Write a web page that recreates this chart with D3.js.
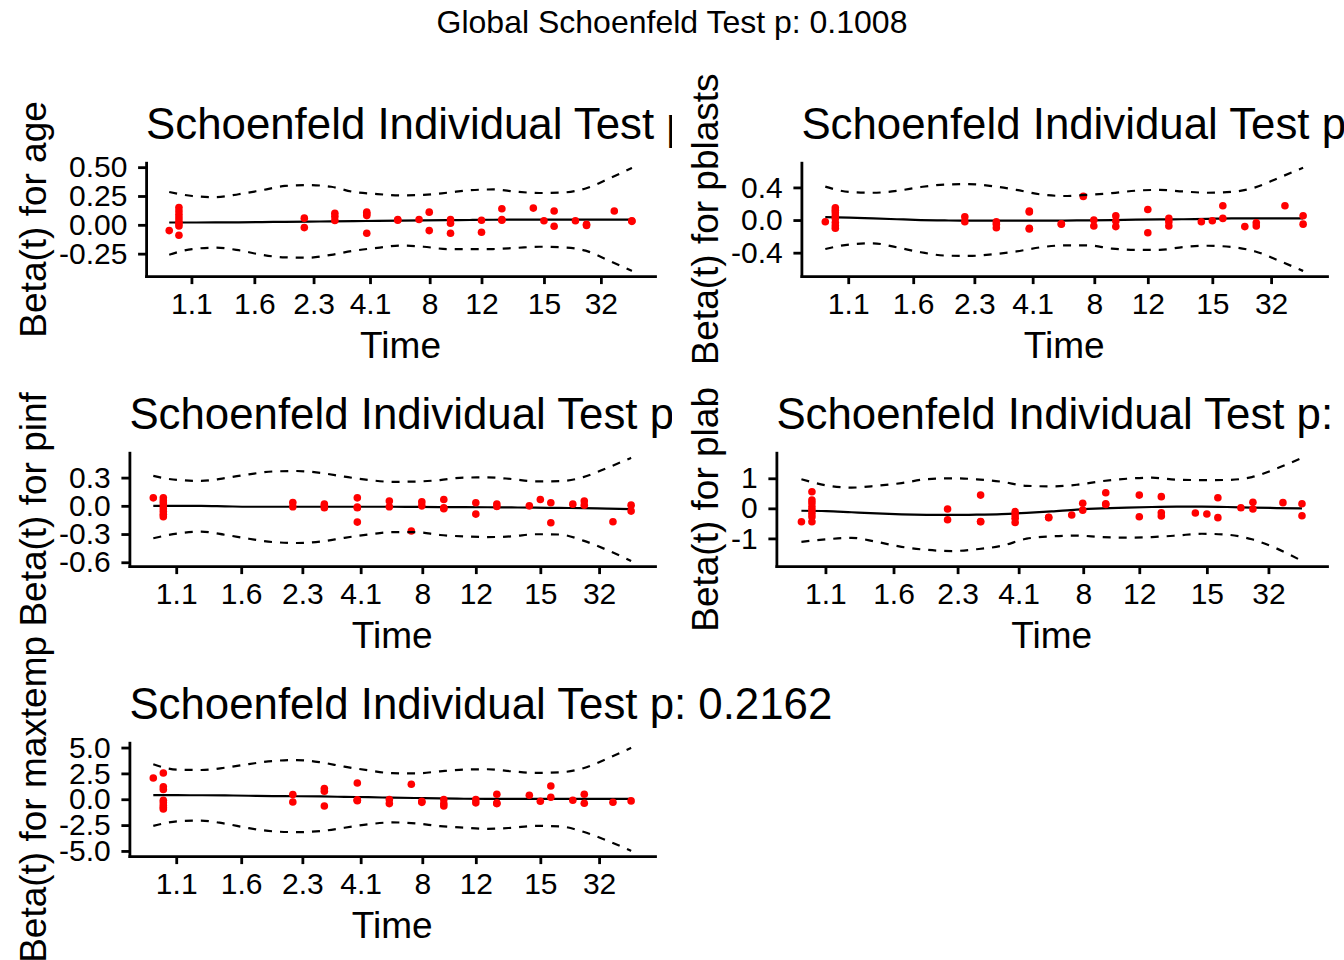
<!DOCTYPE html>
<html lang="en">
<head>
<meta charset="UTF-8">
<title>Schoenfeld residuals</title>
<script src="https://d3js.org/d3.v7.min.js"></script>
<style>
  body { margin: 0; background: #fff; }
  text { font-family: "Liberation Sans", Arial, sans-serif; fill: #000; }
</style>
</head>
<body>
<div id="chart"></div>
<script>
const globalTitle = "Global Schoenfeld Test p: 0.1008";

// event times on the transformed (km) axis, rescaled to 0..1
const timeX = [0, 0.021, 0.292, 0.358, 0.427, 0.494, 0.540, 0.562, 0.608,
               0.675, 0.719, 0.787, 0.810, 0.832, 0.878, 0.902, 0.962, 1.0];
const xTickPos = [0.048, 0.184, 0.312, 0.434, 0.563, 0.675, 0.81, 0.933];
const xTickLabels = ["1.1", "1.6", "2.3", "4.1", "8", "12", "15", "32"];

// where the smoothed beta(t) and its band were read
const smoothX = [0, 0.05, 0.1, 0.15, 0.2, 0.25, 0.3, 0.35, 0.4, 0.45, 0.5,
                 0.55, 0.6, 0.65, 0.7, 0.75, 0.8, 0.85, 0.9, 0.95, 1.0];

// ---- age
const residAge = [[-0.05], [0.15, 0.12, 0.09, 0.06, 0.03, 0.01, -0.01, -0.09], [0.058, -0.024],
  [0.10, 0.072, 0.037], [0.11, 0.095, 0.08, -0.073], [0.046, 0.04], [0.046], [0.11, -0.05],
  [0.046, 0.014, -0.073], [0.04, -0.064], [0.14, 0.046, 0.04], [0.145], [0.035],
  [0.12, -0.012], [0.035], [0.005, -0.005], [0.12], [0.035, 0.03]];
const fitAge = [0.02, 0.02, 0.021, 0.022, 0.024, 0.026, 0.028, 0.03, 0.032, 0.034, 0.036,
  0.038, 0.04, 0.042, 0.044, 0.045, 0.045, 0.045, 0.045, 0.045, 0.045];
const upperAge = [0.285, 0.25, 0.24, 0.265, 0.30, 0.337, 0.345, 0.33, 0.284, 0.267, 0.255,
  0.26, 0.278, 0.30, 0.307, 0.287, 0.276, 0.28, 0.315, 0.40, 0.494];
const lowerAge = [-0.259, -0.21, -0.198, -0.22, -0.26, -0.282, -0.285, -0.26, -0.224, -0.2, -0.18,
  -0.19, -0.21, -0.21, -0.21, -0.2, -0.19, -0.195, -0.224, -0.31, -0.40];
const yTicksAge = [-0.25, 0, 0.25, 0.5];
const yLabelsAge = ["-0.25", "0.00", "0.25", "0.50"];

// ---- pblasts
const residPblasts = [[-0.02], [0.15, 0.12, 0.09, 0.05, 0.02, -0.03, -0.07, -0.10], [0.04, -0.02],
  [-0.02, -0.05, -0.094], [0.11, 0.10, -0.10, -0.11], [-0.05, -0.045], [0.29], [0.0, -0.073],
  [0.053, -0.012, -0.08], [0.13, -0.155], [0.02, -0.02, -0.073], [-0.02], [-0.008],
  [0.175, 0.02], [-0.08], [-0.033, -0.073], [0.175], [0.053, -0.05]];
const fitPblasts = [0.035, 0.03, 0.02, 0.01, 0.0, -0.005, -0.008, -0.008, -0.008, -0.008, -0.006,
  -0.003, 0.0, 0.005, 0.008, 0.01, 0.015, 0.02, 0.02, 0.02, 0.02];
const upperPblasts = [0.41, 0.345, 0.335, 0.358, 0.405, 0.435, 0.44, 0.415, 0.37, 0.315, 0.295,
  0.31, 0.33, 0.36, 0.37, 0.35, 0.335, 0.345, 0.40, 0.52, 0.64];
const lowerPblasts = [-0.355, -0.30, -0.285, -0.335, -0.395, -0.435, -0.44, -0.42, -0.385, -0.335, -0.31,
  -0.31, -0.35, -0.365, -0.365, -0.33, -0.315, -0.33, -0.385, -0.50, -0.624];
const yTicksPblasts = [-0.4, 0, 0.4];
const yLabelsPblasts = ["-0.4", "0.0", "0.4"];

// ---- pinf
const residPinf = [[0.085], [0.085, 0.055, 0.03, 0.0, -0.03, -0.06, -0.09, -0.115], [0.036, -0.01],
  [0.02, 0.0, -0.02], [0.085, -0.014, -0.02, -0.173], [0.05, -0.01], [-0.268], [0.042, 0.0],
  [0.068, -0.02, -0.03], [0.032, -0.088], [0.02, -0.007], [0.0], [0.068],
  [0.032, -0.18], [0.018], [0.05, 0.007], [-0.17], [0.007, -0.056]];
const fitPinf = [0, 0, 0, -0.005, -0.01, -0.01, -0.01, -0.01, -0.01, -0.01, -0.01,
  -0.012, -0.013, -0.014, -0.015, -0.017, -0.02, -0.022, -0.025, -0.03, -0.035];
const upperPinf = [0.318, 0.275, 0.265, 0.295, 0.335, 0.365, 0.37, 0.35, 0.31, 0.275, 0.255,
  0.258, 0.274, 0.3, 0.302, 0.285, 0.26, 0.262, 0.305, 0.403, 0.51];
const lowerPinf = [-0.345, -0.295, -0.275, -0.308, -0.35, -0.385, -0.395, -0.38, -0.34, -0.305, -0.28,
  -0.28, -0.31, -0.325, -0.332, -0.325, -0.302, -0.305, -0.37, -0.47, -0.586];
const yTicksPinf = [-0.6, -0.3, 0, 0.3];
const yLabelsPinf = ["-0.6", "-0.3", "0.0", "0.3"];

// ---- plab
const residPlab = [[-0.445], [0.55, 0.28, 0.18, 0.05, -0.06, -0.17, -0.28, -0.445], [-0.02, -0.38],
  [0.44, -0.445, -0.44], [-0.11, -0.22, -0.33, -0.47], [-0.31, -0.30], [-0.22], [0.17, -0.06],
  [0.52, 0.15, 0.13], [0.44, -0.28], [0.39, -0.145, -0.255], [-0.155], [-0.19],
  [0.355, -0.31], [0.02], [0.2, -0.02], [0.19], [0.155, -0.245]];
const fitPlab = [-0.08, -0.09, -0.13, -0.17, -0.2, -0.215, -0.22, -0.21, -0.19, -0.15, -0.1,
  -0.04, 0.0, 0.025, 0.045, 0.055, 0.055, 0.045, 0.025, 0.01, 0.0];
const upperPlab = [0.97, 0.765, 0.69, 0.75, 0.84, 0.97, 1.0, 0.967, 0.885, 0.75, 0.73,
  0.785, 0.905, 0.985, 1.02, 0.955, 0.94, 0.945, 1.04, 1.33, 1.68];
const lowerPlab = [-1.113, -1.03, -0.98, -1.115, -1.28, -1.38, -1.42, -1.36, -1.247, -1.01, -0.93,
  -0.905, -0.957, -0.975, -0.955, -0.905, -0.845, -0.875, -1.03, -1.34, -1.75];
const yTicksPlab = [-1, 0, 1];
const yLabelsPlab = ["-1", "0", "1"];

// ---- maxtemp
const residMaxtemp = [[2.05], [2.54, 1.2, 0.95, -0.1, -0.35, -0.6, -0.8, -0.95], [0.45, -0.26],
  [1.03, 0.77, -0.65], [1.57, -0.1, -0.15, -0.05], [-0.03, -0.42], [1.45], [-0.2, -0.3],
  [-0.03, -0.42, -0.65], [-0.03, -0.35], [0.48, -0.42, -0.38], [0.39], [-0.19],
  [1.28, 0.19], [-0.1], [0.48, -0.39], [-0.29], [-0.16]];
const fitMaxtemp = [0.39, 0.39, 0.385, 0.37, 0.34, 0.3, 0.29, 0.27, 0.23, 0.2, 0.15,
  0.12, 0.08, 0.05, 0.04, 0.03, 0.03, 0.03, 0.03, 0.03, 0.03];
const upperMaxtemp = [3.38, 2.86, 2.83, 3.05, 3.4, 3.7, 3.79, 3.57, 3.15, 2.8, 2.52,
  2.5, 2.7, 2.86, 2.9, 2.7, 2.55, 2.6, 3.0, 3.92, 4.97];
const lowerMaxtemp = [-2.57, -2.14, -2.06, -2.36, -2.8, -3.1, -3.18, -3.08, -2.76, -2.42, -2.24,
  -2.34, -2.6, -2.75, -2.86, -2.76, -2.58, -2.62, -3.15, -4.0, -5.0];
const yTicksMaxtemp = [-5, -2.5, 0, 2.5, 5];
const yLabelsMaxtemp = ["-5.0", "-2.5", "0.0", "2.5", "5.0"];

// per-panel p values; only the last one is readable, the others are cut off
const covariates = ["age", "pblasts", "pinf", "plab", "maxtemp"];
const pValues = [null, null, null, null, "0.2162"];

const panels = [
  { resid: residAge, fit: fitAge, upper: upperAge, lower: lowerAge, ticks: yTicksAge, labels: yLabelsAge },
  { resid: residPblasts, fit: fitPblasts, upper: upperPblasts, lower: lowerPblasts, ticks: yTicksPblasts, labels: yLabelsPblasts },
  { resid: residPinf, fit: fitPinf, upper: upperPinf, lower: lowerPinf, ticks: yTicksPinf, labels: yLabelsPinf },
  { resid: residPlab, fit: fitPlab, upper: upperPlab, lower: lowerPlab, ticks: yTicksPlab, labels: yLabelsPlab },
  { resid: residMaxtemp, fit: fitMaxtemp, upper: upperMaxtemp, lower: lowerMaxtemp, ticks: yTicksMaxtemp, labels: yLabelsMaxtemp }
];

const width = 1344, height = 960;
const cellW = 672, rowH = 290, rowTop0 = 72;

const svg = d3.select("#chart").append("svg")
  .attr("width", width)
  .attr("height", height)
  .style("display", "block");

svg.append("rect").attr("width", width).attr("height", height).attr("fill", "#fff");

svg.append("text")
  .attr("x", width / 2)
  .attr("y", 33)
  .attr("text-anchor", "middle")
  .attr("font-size", 32)
  .text(globalTitle);

function styleAxis(g) {
  g.attr("font-size", 30).attr("font-family", null);
  g.select(".domain").attr("stroke", "#000").attr("stroke-width", 2.8).attr("stroke-linecap", "square");
  g.selectAll(".tick line").attr("stroke", "#000").attr("stroke-width", 2.8);
}

panels.forEach((p, i) => {
  const cx = (i % 2) * cellW;
  const cy = rowTop0 + Math.floor(i / 2) * rowH;
  const g = svg.append("g");

  // each cell paints its own white background, hiding overflow from the left neighbour
  g.append("rect").attr("x", cx).attr("y", cy).attr("width", cellW).attr("height", rowH).attr("fill", "#fff");

  const top = cy + 90.7, bottom = top + 113.4, right = cx + 655;

  const all = p.resid.flat().concat(p.fit, p.upper, p.lower);
  const [lo, hi] = d3.extent(all);
  const pad = (hi - lo) * 0.05;
  const y = d3.scaleLinear().domain([lo - pad, hi + pad]).range([bottom, top]);

  const yAxisG = g.append("g")
    .call(d3.axisLeft(y)
      .tickValues(p.ticks)
      .tickFormat(d => p.labels[p.ticks.indexOf(d)])
      .tickSize(8).tickPadding(10.7).tickSizeOuter(0));
  styleAxis(yAxisG);

  let maxW = 0;
  yAxisG.selectAll("text").each(function () { maxW = Math.max(maxW, this.getComputedTextLength()); });
  const left = cx + 59 + maxW + 18.7;
  yAxisG.attr("transform", `translate(${left},0)`);

  const x = d3.scaleLinear().domain([-0.05, 1.05]).range([left, right]);

  const xAxisG = g.append("g")
    .attr("transform", `translate(0,${bottom})`)
    .call(d3.axisBottom(x)
      .tickValues(xTickPos)
      .tickFormat(d => xTickLabels[xTickPos.indexOf(d)])
      .tickSize(8).tickPadding(8.3).tickSizeOuter(0));
  styleAxis(xAxisG);

  const line = vals => d3.line()
    .x((d, k) => x(smoothX[k]))
    .y(d => y(d))
    .curve(d3.curveMonotoneX)(vals);

  g.append("path")
    .attr("d", line(p.fit))
    .attr("fill", "none").attr("stroke", "#000").attr("stroke-width", 2.2);

  const pts = p.resid.flatMap((vals, c) => vals.map(v => [timeX[c], v]));
  g.selectAll("circle")
    .data(pts)
    .join("circle")
    .attr("cx", d => x(d[0]))
    .attr("cy", d => y(d[1]))
    .attr("r", 3.8)
    .attr("fill", "#ff0000");

  [p.upper, p.lower].forEach(band => {
    g.append("path")
      .attr("d", line(band))
      .attr("fill", "none").attr("stroke", "#000").attr("stroke-width", 2.2)
      .attr("stroke-dasharray", "8,8");
  });

  const title = "Schoenfeld Individual Test p:" + (pValues[i] ? " " + pValues[i] : "");
  g.append("text")
    .attr("x", left)
    .attr("y", top - 24)
    .attr("font-size", 43.8)
    .text(title);

  g.append("text")
    .attr("x", (left + right) / 2)
    .attr("y", bottom + 82)
    .attr("text-anchor", "middle")
    .attr("font-size", 37)
    .text("Time");

  g.append("text")
    .attr("transform", `translate(${cx + 46},${(top + bottom) / 2}) rotate(-90)`)
    .attr("text-anchor", "middle")
    .attr("font-size", 37)
    .text("Beta(t) for " + covariates[i]);
});
</script>
</body>
</html>
